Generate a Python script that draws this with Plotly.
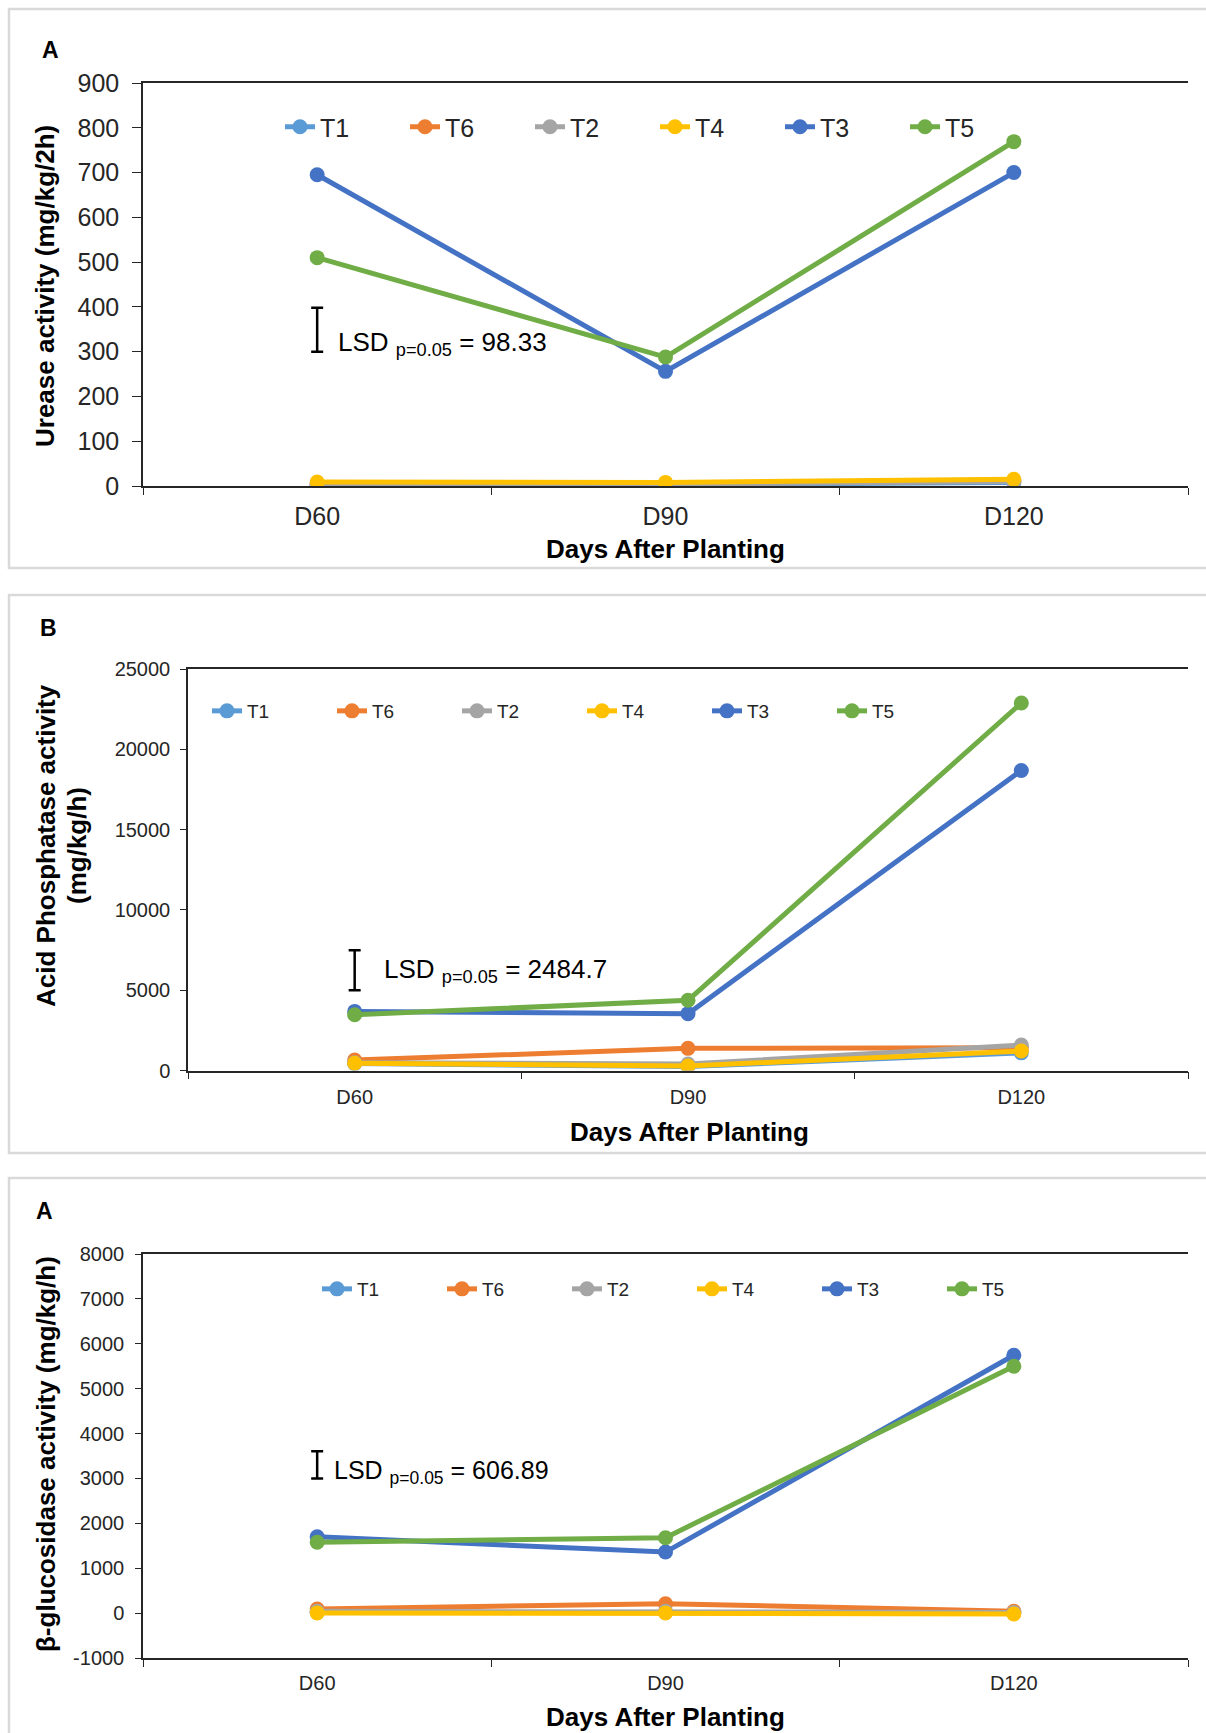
import plotly.graph_objects as go

W, H = 1206, 1733
FONT = "Liberation Sans, Arial, sans-serif"

# ---- data ----
days = ["D60", "D90", "D120"]
treatments = ["T1", "T6", "T2", "T4", "T3", "T5"]
colors = {"T1": "#5B9BD5", "T6": "#ED7D31", "T2": "#A5A5A5",
          "T4": "#FFC000", "T3": "#4472C4", "T5": "#70AD47"}

urease = {"T1": [3, 3, 8], "T6": [5, 6, 11], "T2": [4, 5, 10],
          "T4": [9, 8, 15], "T3": [695, 256, 700], "T5": [510, 288, 769]}
acid_phosphatase = {"T1": [430, 250, 1100], "T6": [650, 1380, 1420],
                    "T2": [490, 400, 1590], "T4": [450, 280, 1210],
                    "T3": [3680, 3540, 18680], "T5": [3470, 4370, 22880]}
glucosidase = {"T1": [20, 15, 0], "T6": [90, 210, 40], "T2": [40, 40, 15],
               "T4": [5, 5, -20], "T3": [1700, 1360, 5745], "T5": [1580, 1680, 5500]}

urease_ticks = [0, 100, 200, 300, 400, 500, 600, 700, 800, 900]
acid_ticks = [0, 5000, 10000, 15000, 20000, 25000]
gluc_ticks = [-1000, 0, 1000, 2000, 3000, 4000, 5000, 6000, 7000, 8000]

lsd_urease, lsd_urease_base = 98.33, 300
lsd_acid, lsd_acid_base = 2484.7, 5000
lsd_gluc, lsd_gluc_base = 606.89, 3000


def px_x(p):
    return p / W


def px_y(p):
    return 1 - p / H


panels = [
    dict(key="", data=urease, ylab=["Urease activity (mg/kg/2h)"], yrange=[0, 900],
         ticks=urease_ticks, left=143, top=83, bottom=486, tick_font=25, leg_font=25,
         legend="legend", leg_x=325, leg_y=127, lsd=lsd_urease, lsd_base=lsd_urease_base,
         lsd_text_y=318, lsd_shift=19, lsd_font=26, ytitle_x=[45], ytitle_y=286,
         xtitle_x=665, xtitle_y=549, letter="A", letter_xy=(50, 50), ticklen=9,
         xstand=7, ystand=8, box=(9, 9, 568)),
    dict(key="2", data=acid_phosphatase,
         ylab=["Acid Phosphatase activity", "(mg/kg/h)"],
         yrange=[0, 25000], ticks=acid_ticks, left=188, top=669, bottom=1070.5,
         tick_font=20, leg_font=19, legend="legend2", leg_x=252, leg_y=711,
         lsd=lsd_acid, lsd_base=lsd_acid_base, lsd_text_y=6250, lsd_shift=27,
         lsd_font=26, ytitle_x=[46, 77], ytitle_y=846, xtitle_x=689, xtitle_y=1132,
         letter="B", letter_xy=(48, 628), ticklen=6, xstand=8, ystand=6,
         box=(9, 595, 1153)),
    dict(key="3", data=glucosidase, ylab=["β-glucosidase activity (mg/kg/h)"],
         yrange=[-1000, 8000], ticks=gluc_ticks, left=143, top=1254, bottom=1658,
         tick_font=20, leg_font=19, legend="legend3", leg_x=362, leg_y=1289,
         lsd=lsd_gluc, lsd_base=lsd_gluc_base, lsd_text_y=3150, lsd_shift=15,
         lsd_font=25, ytitle_x=[46], ytitle_y=1454, xtitle_x=665, xtitle_y=1717,
         letter="A", letter_xy=(44, 1211), ticklen=6, xstand=6, ystand=7,
         box=(9, 1178, 1760)),
]

fig = go.Figure()
layout = dict(width=W, height=H,
              margin=dict(l=0, r=0, t=0, b=0, pad=0, autoexpand=False),
              paper_bgcolor="white", plot_bgcolor="white",
              font=dict(family=FONT, color="#262626"), showlegend=True)
annotations = []
shapes = []
RIGHT = 1188
AXIS = "#262626"

for p in panels:
    k = p["key"]
    xa, ya = "x" + k, "y" + k
    for t in treatments:
        fig.add_trace(go.Scatter(
            x=days, y=p["data"][t], name=t, mode="lines+markers",
            line=dict(color=colors[t], width=5),
            marker=dict(color=colors[t], size=15),
            xaxis=xa, yaxis=ya, legend=p["legend"]))
    # LSD bar: centred on base + LSD/2, spanning the LSD value
    fig.add_trace(go.Scatter(
        x=[days[0]], y=[p["lsd_base"] + p["lsd"] / 2], mode="markers",
        marker=dict(size=1, color="rgba(0,0,0,0)"),
        error_y=dict(type="data", array=[p["lsd"] / 2], symmetric=True,
                     color="black", thickness=2.5, width=6),
        showlegend=False, hoverinfo="skip", xaxis=xa, yaxis=ya))

    layout["xaxis" + k] = dict(
        domain=[px_x(p["left"]), px_x(RIGHT)], anchor=ya, type="category",
        range=[-0.5, 2.5], tickson="boundaries", ticks="outside", ticklen=7,
        tickcolor=AXIS, showline=True, linecolor=AXIS, linewidth=1.5,
        mirror=True, showgrid=False, zeroline=False, automargin=False,
        ticklabelstandoff=p["xstand"],
        tickfont=dict(size=p["tick_font"], color=AXIS))
    layout["yaxis" + k] = dict(
        domain=[px_y(p["bottom"]), px_y(p["top"])], anchor=xa, range=p["yrange"],
        tickvals=p["ticks"], ticktext=[str(v) for v in p["ticks"]],
        ticks="outside", ticklen=p["ticklen"], tickcolor=AXIS,
        showline=True, linecolor=AXIS, linewidth=1.5, showgrid=False,
        zeroline=False, automargin=False, ticklabelstandoff=p["ystand"],
        tickfont=dict(size=p["tick_font"], color=AXIS))
    layout[p["legend"]] = dict(
        orientation="h", x=px_x(p["leg_x"] - 45), xanchor="left",
        y=px_y(p["leg_y"]), yanchor="middle", bgcolor="rgba(0,0,0,0)",
        font=dict(size=p["leg_font"], color=AXIS),
        entrywidth=80, entrywidthmode="pixels", itemwidth=30)

    annotations.append(dict(
        x=days[0], y=p["lsd_text_y"], xref=xa, yref=ya, xanchor="left",
        yanchor="middle", xshift=p["lsd_shift"], showarrow=False,
        text="LSD <sub>p=0.05</sub> = " + f"{p['lsd']:g}",
        font=dict(size=p["lsd_font"], color="black")))
    for line_text, lx in zip(p["ylab"], p["ytitle_x"]):
        annotations.append(dict(
            x=px_x(lx), y=px_y(p["ytitle_y"]), xref="paper", yref="paper",
            xanchor="center", yanchor="middle", textangle=-90, showarrow=False,
            text="<b>" + line_text + "</b>", font=dict(size=26, color="black")))
    annotations.append(dict(
        x=px_x(p["xtitle_x"]), y=px_y(p["xtitle_y"]), xref="paper", yref="paper",
        xanchor="center", yanchor="middle", showarrow=False,
        text="<b>Days After Planting</b>", font=dict(size=26, color="black")))
    annotations.append(dict(
        x=px_x(p["letter_xy"][0]), y=px_y(p["letter_xy"][1]), xref="paper",
        yref="paper", xanchor="center", yanchor="middle", showarrow=False,
        text="<b>" + p["letter"] + "</b>", font=dict(size=23, color="black")))
    bx, by0, by1 = p["box"]
    shapes.append(dict(type="rect", xref="paper", yref="paper",
                       x0=px_x(bx), x1=px_x(W + 20), y0=px_y(by1), y1=px_y(by0),
                       line=dict(color="#D9D9D9", width=2.5), layer="below"))

layout["annotations"] = annotations
layout["shapes"] = shapes
fig.update_layout(**layout)
fig.write_html("out.html")
